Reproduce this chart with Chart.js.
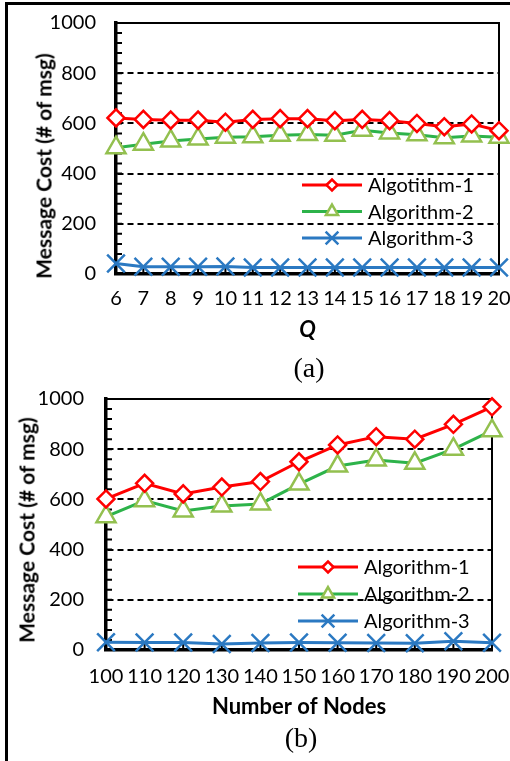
<!DOCTYPE html>
<html>
<head>
<title>Message Cost</title>
<script src="https://cdn.jsdelivr.net/npm/chart.js"></script>
<style>
    body { margin: 0; width: 510px; height: 761px; overflow: hidden; background: #fff; position: relative; }
    #frame { position: absolute; left: 5px; top: 2px; width: 600px; height: 800px; border-left: 3px solid #000; border-top: 3px solid #000; }
    canvas { position: absolute; left: 0; }
    .ytitle { position: absolute; font: bold 21px Lato; white-space: nowrap; color: #000; transform: translate(-50%, -50%) rotate(-90deg); }
    .caption { position: absolute; font: 28px "Liberation Serif"; color: #000; transform: translate(-50%, -50%); }
</style>
</head>
<body>
<div id="frame"></div>
<canvas id="chartA" width="510" height="350" style="top:0"></canvas>
<canvas id="chartB" width="510" height="360" style="top:370px"></canvas>
<div class="ytitle" style="left:43px;top:166px">Message Cost (# of msg)</div>
<div class="ytitle" style="left:26px;top:530px">Message Cost (# of msg)</div>
<div class="caption" style="left:309px;top:368px">(a)</div>
<div class="caption" style="left:301px;top:738px">(b)</div>

<script>
    // (a) 메시지 비용 vs Q
    var qLabels = ['6', '7', '8', '9', '10', '11', '12', '13', '14', '15', '16', '17', '18', '19', '20'];
    var qAlgo1 = [622, 616, 613, 613, 605, 616, 619, 619, 611, 616, 611, 600, 587, 598, 571];
    var qAlgo2 = [503, 517, 530, 538, 545, 547, 553, 556, 553, 573, 562, 555, 543, 550, 545];
    var qAlgo3 = [42, 29, 29, 29, 30, 26, 26, 26, 26, 26, 26, 26, 26, 26, 26];
    var qNames = ['Algotithm-1', 'Algorithm-2', 'Algorithm-3'];

    // (b) 메시지 비용 vs 노드 수
    var nodeLabels = ['100', '110', '120', '130', '140', '150', '160', '170', '180', '190', '200'];
    var nodeAlgo1 = [602, 664, 622, 649, 671, 750, 817, 850, 840, 899, 969];
    var nodeAlgo2 = [531, 595, 554, 574, 582, 661, 733, 757, 744, 800, 874];
    var nodeAlgo3 = [31, 30, 30, 24, 28, 30, 29, 28, 27, 35, 29];
    var nodeNames = ['Algorithm-1', 'Algorithm-2', 'Algorithm-3'];

    var yMin = 0, yMax = 1000, yMinorStep = 40, yMajorStep = 200;

    var RED = '#ff0000', GREEN = '#2db34a', OLIVE = '#93c04f', BLUE = '#2b79c2';

    function makeDatasets(names, d1, d2, d3) {
        return [{
            label: names[0], data: d1,
            borderColor: RED, borderWidth: 3,
            pointStyle: 'rectRot', pointRadius: 8.5, pointBorderWidth: 2.5,
            pointBorderColor: RED, pointBackgroundColor: '#fff',
            legendRadius: 5.5, clip: false
        }, {
            label: names[1], data: d2,
            borderColor: GREEN, borderWidth: 3,
            pointStyle: 'triangle', pointRadius: 11, pointBorderWidth: 2.5,
            pointBorderColor: OLIVE, pointBackgroundColor: '#fff',
            legendRadius: 7, clip: false
        }, {
            label: names[2], data: d3,
            borderColor: BLUE, borderWidth: 3,
            pointStyle: 'crossRot', pointRadius: 12.5, pointBorderWidth: 2.5,
            pointBorderColor: BLUE, pointBackgroundColor: BLUE,
            legendRadius: 9, clip: false
        }];
    }

    // 플롯 테두리 + 안쪽 눈금
    var framePlugin = {
        id: 'frame',
        beforeDatasetsDraw: function (chart) {
            var a = chart.chartArea, ctx = chart.ctx;
            var ys = chart.scales.y, xs = chart.scales.x;
            ctx.save();
            ctx.strokeStyle = '#000';
            ctx.lineWidth = 2;
            ctx.beginPath();
            ys.ticks.forEach(function (t) {
                var p = ys.getPixelForValue(t.value);
                ctx.moveTo(a.left, p);
                ctx.lineTo(a.left + 6, p);
            });
            xs.ticks.forEach(function (t, i) {
                var p = xs.getPixelForTick(i);
                ctx.moveTo(p, a.bottom);
                ctx.lineTo(p, a.bottom - 6);
            });
            ctx.stroke();
            ctx.beginPath();
            ctx.moveTo(a.left, a.top);
            ctx.lineTo(a.right, a.top);
            ctx.lineTo(a.right, a.bottom);
            ctx.stroke();
            ctx.restore();
        }
    };

    // 차트 안쪽 범례
    var legendPlugin = {
        id: 'insideLegend',
        afterDraw: function (chart, args, opts) {
            var ctx = chart.ctx;
            ctx.save();
            ctx.font = '20px Lato';
            ctx.textBaseline = 'middle';
            ctx.textAlign = 'left';
            chart.data.datasets.forEach(function (ds, i) {
                var y = opts.y + i * opts.gap;
                ctx.strokeStyle = ds.borderColor;
                ctx.lineWidth = ds.borderWidth;
                ctx.beginPath();
                ctx.moveTo(opts.x, y);
                ctx.lineTo(opts.x + 60, y);
                ctx.stroke();
                ctx.fillStyle = ds.pointBackgroundColor;
                ctx.strokeStyle = ds.pointBorderColor;
                ctx.lineWidth = 2.5;
                Chart.helpers.drawPoint(ctx, {
                    pointStyle: ds.pointStyle, radius: ds.legendRadius, borderWidth: 2.5, rotation: 0
                }, opts.x + 30, y);
                ctx.fillStyle = '#000';
                ctx.fillText(ds.label, opts.x + 66, y + 1);
            });
            ctx.restore();
        }
    };

    function makeChart(id, labels, datasets, o) {
        var ctx = document.getElementById(id).getContext('2d');
        return new Chart(ctx, {
            type: 'line',
            data: { labels: labels, datasets: datasets },
            options: {
                responsive: false,
                animation: false,
                layout: { autoPadding: false, padding: { top: o.top, right: o.right, left: 0, bottom: 0 } },
                elements: { line: { tension: 0 } },
                scales: {
                    x: {
                        offset: false,
                        grid: { display: false, drawTicks: false },
                        border: { display: true, color: '#000', width: 3.5 },
                        ticks: { color: '#000', font: { family: 'Lato', size: 20 }, padding: o.xPad, maxRotation: 0, autoSkip: false },
                        title: { display: true, text: o.xTitle, color: '#000', font: { family: 'Lato', size: 22, weight: 'bold', style: o.xStyle }, padding: { top: 0, bottom: o.xTitlePad } },
                        afterFit: function (s) {
                            s.height = o.xHeight;
                            s.paddingLeft = 0;
                            s.paddingRight = 0;
                        }
                    },
                    y: {
                        min: yMin, max: yMax,
                        grid: {
                            drawTicks: false, lineWidth: 2,
                            color: function (c) {
                                var v = c.tick.value;
                                return (v % yMajorStep === 0 && v > yMin && v < yMax) ? '#000' : 'rgba(0,0,0,0)';
                            }
                        },
                        border: { display: true, color: '#000', width: 3.5, dash: [6, 4] },
                        ticks: {
                            stepSize: yMinorStep, autoSkip: false, color: '#000',
                            font: { family: 'Lato', size: 20 }, padding: o.yPad,
                            callback: function (v) { return v % yMajorStep === 0 ? v : ''; }
                        },
                        afterFit: function (s) {
                            s.width = o.yWidth;
                            s.paddingTop = 0;
                            s.paddingBottom = 0;
                        }
                    }
                },
                plugins: {
                    legend: { display: false },
                    tooltip: { enabled: false },
                    insideLegend: { x: o.legX, y: o.legY, gap: o.legGap }
                }
            },
            plugins: [framePlugin, legendPlugin]
        });
    }

    makeChart('chartA', qLabels, makeDatasets(qNames, qAlgo1, qAlgo2, qAlgo3), {
        top: 23, right: 11, yWidth: 116, xHeight: 76, xPad: 13, yPad: 20,
        xTitle: 'Q', xStyle: 'italic', xTitlePad: 7,
        legX: 302, legY: 185, legGap: 26.5
    });

    makeChart('chartB', nodeLabels, makeDatasets(nodeNames, nodeAlgo1, nodeAlgo2, nodeAlgo3), {
        top: 29, right: 18, yWidth: 106, xHeight: 80, xPad: 15, yPad: 22,
        xTitle: 'Number of Nodes', xStyle: 'normal', xTitlePad: 10,
        legX: 298, legY: 197, legGap: 27
    });
</script>
</body>
</html>
